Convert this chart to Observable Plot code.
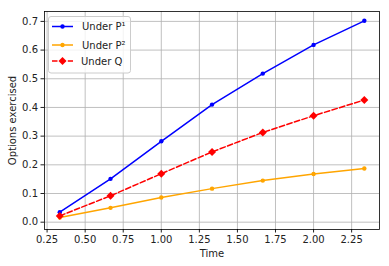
<!DOCTYPE html>
<html>
<head>
<meta charset="utf-8">
<script src="https://cdn.jsdelivr.net/npm/d3@7"></script>
<script src="https://cdn.jsdelivr.net/npm/@observablehq/plot@0.6"></script>
<style>
  body { margin: 0; background: white; }
  #wrap { position: relative; width: 389px; height: 266px; font-family: "DejaVu Sans", sans-serif; }
  #legend { position: absolute; left: 48px; top: 16px; }
</style>
</head>
<body>
<div id="wrap"></div>
<script>
const times = [1/3, 2/3, 1, 4/3, 5/3, 2, 7/3];
const underP1 = [0.035, 0.151, 0.282, 0.41, 0.518, 0.618, 0.702];
const underP2 = [0.016, 0.050, 0.086, 0.117, 0.145, 0.168, 0.187];
const underQ  = [0.022, 0.092, 0.169, 0.245, 0.313, 0.371, 0.426];
const xTicks = [0.25, 0.5, 0.75, 1.0, 1.25, 1.5, 1.75, 2.0, 2.25];
const yTicks = [0.0, 0.1, 0.2, 0.3, 0.4, 0.5, 0.6, 0.7];
const seriesNames = ["Under P¹", "Under P²", "Under Q"];
const colors = ["blue", "orange", "red"];

const rows = (vals) => times.map((t, i) => ({t, v: vals[i]}));
const d1 = rows(underP1), d2 = rows(underP2), dq = rows(underQ);

const plot = Plot.plot({
  width: 389,
  height: 266,
  marginLeft: 44,
  marginRight: 10,
  marginTop: 11,
  marginBottom: 37,
  style: {background: "white", fontFamily: "DejaVu Sans, sans-serif", fontSize: "10px", color: "#222"},
  x: {domain: [0.233, 2.433]},
  y: {domain: [-0.0255, 0.7345]},
  marks: [
    Plot.gridX(xTicks, {stroke: "#b0b0b0", strokeOpacity: 1, strokeWidth: 0.8}),
    Plot.gridY(yTicks, {stroke: "#b0b0b0", strokeOpacity: 1, strokeWidth: 0.8}),
    Plot.axisX(xTicks, {tickSize: 3.5, tickFormat: d3.format(".2f"), tickPadding: 3, label: "Time", labelAnchor: "center", labelArrow: "none", labelOffset: 27, fontSize: 10}),
    Plot.axisY(yTicks, {tickSize: 3.5, tickFormat: d3.format(".1f"), tickPadding: 3, label: "Options exercised", labelAnchor: "center", labelArrow: "none", labelOffset: 36, fontSize: 10}),
    Plot.line(d1, {x: "t", y: "v", stroke: colors[0], strokeWidth: 1.5}),
    Plot.dot(d1, {x: "t", y: "v", fill: colors[0], r: 2.2}),
    Plot.line(d2, {x: "t", y: "v", stroke: colors[1], strokeWidth: 1.5}),
    Plot.dot(d2, {x: "t", y: "v", fill: colors[1], r: 2.2}),
    Plot.line(dq, {x: "t", y: "v", stroke: colors[2], strokeWidth: 1.5, strokeDasharray: "5.5,2.4"}),
    Plot.dot(dq, {x: "t", y: "v", fill: colors[2], stroke: "none", symbol: "diamond2", r: 3.6}),
    Plot.frame({stroke: "black", strokeWidth: 0.8})
  ]
});
const wrap = document.getElementById("wrap");
wrap.appendChild(plot);

// Legend
const ns = "http://www.w3.org/2000/svg";
const lg = document.createElementNS(ns, "svg");
lg.setAttribute("id", "legend");
lg.setAttribute("width", 85);
lg.setAttribute("height", 60);
const box = document.createElementNS(ns, "rect");
box.setAttribute("x", 0.5); box.setAttribute("y", 0.5);
box.setAttribute("width", 82); box.setAttribute("height", 56.5);
box.setAttribute("rx", 2.5);
box.setAttribute("fill", "white"); box.setAttribute("fill-opacity", 0.8);
box.setAttribute("stroke", "#cccccc");
lg.appendChild(box);
const rowY = [10.5, 29, 45];
seriesNames.forEach((name, i) => {
  const y = rowY[i];
  const ln = document.createElementNS(ns, "line");
  ln.setAttribute("x1", 4); ln.setAttribute("x2", 25);
  ln.setAttribute("y1", y); ln.setAttribute("y2", y);
  ln.setAttribute("stroke", colors[i]); ln.setAttribute("stroke-width", 1.5);
  if (i === 2) ln.setAttribute("stroke-dasharray", "5.5,2.4");
  lg.appendChild(ln);
  if (i < 2) {
    const c = document.createElementNS(ns, "circle");
    c.setAttribute("cx", 14.5); c.setAttribute("cy", y); c.setAttribute("r", 2.2);
    c.setAttribute("fill", colors[i]);
    lg.appendChild(c);
  } else {
    const p = document.createElementNS(ns, "path");
    p.setAttribute("d", d3.symbol(d3.symbolDiamond2, 3.6 * 3.6 * Math.PI)());
    p.setAttribute("transform", `translate(14.5,${y})`);
    p.setAttribute("fill", colors[i]);
    lg.appendChild(p);
  }
  const t = document.createElementNS(ns, "text");
  t.setAttribute("x", i < 2 ? 34 : 33);
  t.setAttribute("y", y + 3.6);
  t.setAttribute("font-size", 10);
  t.setAttribute("font-family", "DejaVu Sans, sans-serif");
  t.setAttribute("fill", "#222");
  t.textContent = name;
  lg.appendChild(t);
});
wrap.appendChild(lg);
</script>
</body>
</html>
